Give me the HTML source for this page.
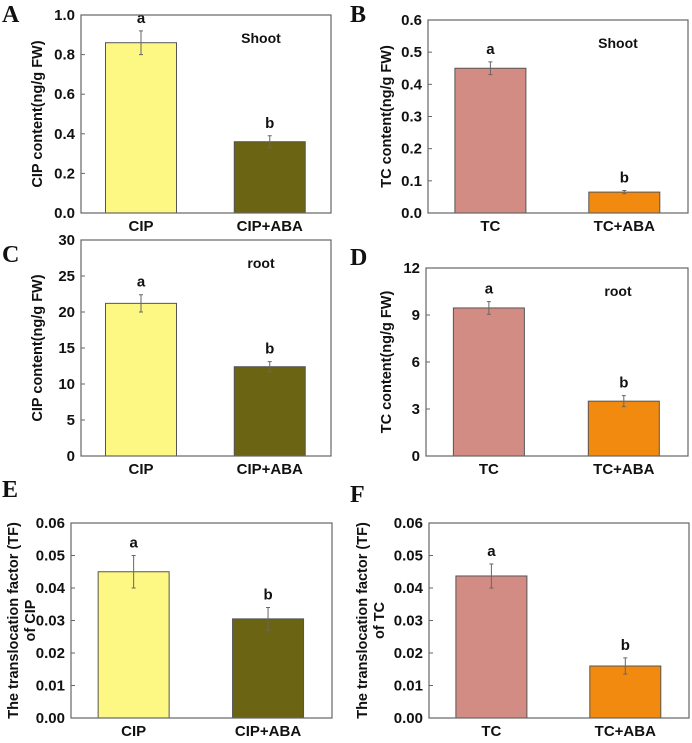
<!DOCTYPE html>
<html><head><meta charset="utf-8"><style>
body{margin:0;background:#fff;width:692px;height:738px;overflow:hidden}
svg text{font-family:"Liberation Sans",Arial,sans-serif;font-weight:bold;fill:#111}
</style></head><body>
<svg id="fig" width="692" height="738" xmlns="http://www.w3.org/2000/svg"></svg>
<script>
const catsA=["CIP","CIP+ABA"], valsA=[0.86,0.36], errA=[0.06,0.03], ticksA=["0.0","0.2","0.4","0.6","0.8","1.0"];
const catsB=["TC","TC+ABA"], valsB=[0.45,0.065], errB=[0.02,0.005], ticksB=["0.0","0.1","0.2","0.3","0.4","0.5","0.6"];
const catsC=["CIP","CIP+ABA"], valsC=[21.2,12.4], errC=[1.2,0.7], ticksC=["0","5","10","15","20","25","30"];
const catsD=["TC","TC+ABA"], valsD=[9.45,3.5], errD=[0.4,0.35], ticksD=["0","3","6","9","12"];
const catsE=["CIP","CIP+ABA"], valsE=[0.045,0.0305], errE=[0.005,0.0035], ticksE=["0.00","0.01","0.02","0.03","0.04","0.05","0.06"];
const catsF=["TC","TC+ABA"], valsF=[0.0437,0.016], errF=[0.0037,0.0025], ticksF=["0.00","0.01","0.02","0.03","0.04","0.05","0.06"];
const sigs=["a","b"];
const NS="http://www.w3.org/2000/svg", svg=document.getElementById('fig');
function mk(t,a,p){const e=document.createElementNS(NS,t);for(const k in a)e.setAttribute(k,a[k]);(p||svg).appendChild(e);return e;}
function panel(id,o,cats,vals,errs,ticks){
  const g=mk('g',{});
  
  
  const max=parseFloat(ticks[ticks.length-1]);
  const y=v=>o.b-(v/max)*(o.b-o.t);
  const bw=71, centers=[o.l+(o.r-o.l)*0.24,o.l+(o.r-o.l)*0.755];
  vals.forEach((v,i)=>{
    const r=mk('rect',{x:centers[i]-bw/2,y:y(v),width:bw,height:o.b-y(v),fill:o.c[i],stroke:'#555','stroke-width':1},g);
    
    
    const e=mk('path',{d:`M${centers[i]} ${y(v+errs[i])}V${y(v-errs[i])}M${centers[i]-2} ${y(v+errs[i])}h4M${centers[i]-2} ${y(v-errs[i])}h4`,stroke:'#666','stroke-width':1,fill:'none'},g);
    
    
    const s=mk('text',{x:centers[i],y:y(v+errs[i])-8,'text-anchor':'middle','font-size':15},g);s.textContent=sigs[i];
    
    
    const c=mk('text',{x:centers[i],y:o.b+18,'text-anchor':'middle','font-size':15},g);c.textContent=cats[i];
    
    
  });
  const f=mk('rect',{x:o.l,y:o.t,width:o.r-o.l,height:o.b-o.t,fill:'none',stroke:'#666','stroke-width':1.2},g);
  
  
  ticks.forEach(t=>{
    const yy=y(parseFloat(t));
    mk('line',{x1:o.l,x2:o.l+4,y1:yy,y2:yy,stroke:'#666'},g);
    const tx=mk('text',{x:o.l-6,y:yy+5,'text-anchor':'end','font-size':15},g);tx.textContent=t;
    
    
  });
  o.yl.forEach((line,i)=>{
    const yt=mk('text',{transform:`translate(${o.ylx+i*17},${(o.t+o.b)/2}) rotate(-90)`,'text-anchor':'middle','font-size':14.5},g);yt.textContent=line;
    
    
  });
  const L=mk('text',{x:o.lx,y:o.ly,'font-size':24,style:'font-family:"Liberation Serif",serif'},g);L.textContent=id;
  
  
  if(o.note){const n=mk('text',{x:o.r-70,y:o.t+28,'text-anchor':'middle','font-size':14},g);n.textContent=o.note;
    
    }
}
const Y='#fdf784',O='#6b6412',R='#d38c84',OR='#f28a10';
panel('A',{l:81,r:331,t:15,b:213,c:[Y,O],yl:['CIP content(ng/g FW)'],ylx:42,lx:2,ly:22,note:'Shoot'},catsA,valsA,errA,ticksA);
panel('B',{l:428,r:688,t:20,b:213,c:[R,OR],yl:['TC content(ng/g FW)'],ylx:391,lx:350,ly:22,note:'Shoot'},catsB,valsB,errB,ticksB);
panel('C',{l:81,r:331,t:240,b:456,c:[Y,O],yl:['CIP content(ng/g FW)'],ylx:42,lx:2,ly:262,note:'root'},catsC,valsC,errC,ticksC);
panel('D',{l:426,r:688,t:268,b:456,c:[R,OR],yl:['TC content(ng/g FW)'],ylx:391,lx:350,ly:265,note:'root'},catsD,valsD,errD,ticksD);
panel('E',{l:71,r:332,t:523,b:718,c:[Y,O],yl:['The translocation factor (TF)','of CIP'],ylx:18,lx:2,ly:497},catsE,valsE,errE,ticksE);
panel('F',{l:429,r:689,t:523,b:718,c:[R,OR],yl:['The translocation factor (TF)','of TC'],ylx:367,lx:350,ly:502},catsF,valsF,errF,ticksF);
</script>
</body></html>
